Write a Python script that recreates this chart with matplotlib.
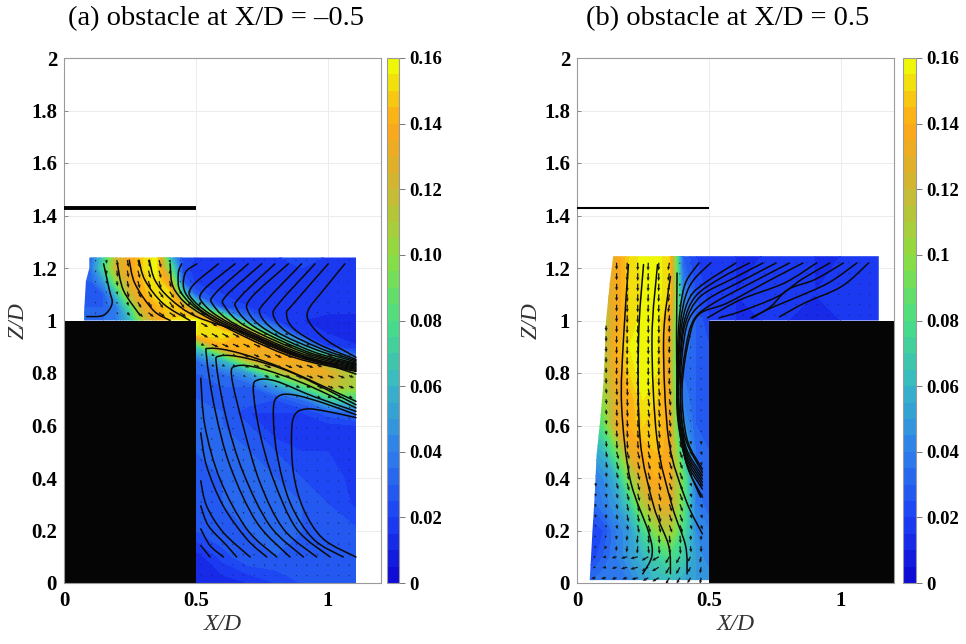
import numpy as np
import matplotlib
matplotlib.use("Agg")
import matplotlib.pyplot as plt
from matplotlib.colors import LinearSegmentedColormap
from matplotlib.path import Path
from matplotlib.patches import PathPatch, Polygon, Rectangle

n = np.nan
plt.rcParams['font.family'] = ['Liberation Serif', 'DejaVu Serif']

# ---- speed field, panel (a)
a_x = [.05, .1, .15, .2, .25, .3, .35, .4, .45, .5, .6, .7, .8, .9, 1.0, 1.12]
a_z = [1.25, 1.2, 1.15, 1.1, 1.05, 1.0, .95, .9, .85, .8, .75, .7, .65, .6, .5, .4, .3, .2, .1, 0]
a_c = [
 [.03, .03, .07, .12, .135, .15, .157, .06, .022, .02, .02, .018, .02, .022, .02, .018],
 [.035, .035, .075, .125, .135, .15, .158, .09, .022, .018, .015, .02, .02, .02, .02, .02],
 [.03, .03, .05, .10, .13, .145, .155, .13, .03, .018, .015, .018, .02, .02, .02, .02],
 [.025, .025, .03, .065, .12, .14, .155, .155, .075, .028, .02, .015, .015, .02, .02, .02],
 [.03, .03, .03, .04, .08, .13, .14, .15, .14, .09, .025, .02, .02, .02, .018, .018],
 [.035, .035, .035, .04, .06, .11, .13, .15, .155, .16, .12, .04, .02, .015, .012, .012],
 [n, n, n, n, n, n, n, n, n, .155, .155, .14, .055, .02, .015, .012],
 [n, n, n, n, n, n, n, n, n, .07, .14, .145, .135, .06, .02, .015],
 [n, n, n, n, n, n, n, n, n, .035, .06, .12, .14, .135, .10, .04],
 [n, n, n, n, n, n, n, n, n, .03, .035, .05, .10, .135, .13, .10],
 [n, n, n, n, n, n, n, n, n, .03, .03, .03, .05, .08, .12, .105],
 [n, n, n, n, n, n, n, n, n, .03, .03, .03, .025, .035, .07, .08],
 [n, n, n, n, n, n, n, n, n, .035, .03, .02, .02, .02, .028, .035],
 [n, n, n, n, n, n, n, n, n, .035, .03, .025, .015, .015, .018, .02],
 [n, n, n, n, n, n, n, n, n, .03, .035, .03, .025, .02, .02, .015],
 [n, n, n, n, n, n, n, n, n, .025, .03, .035, .03, .025, .025, .015],
 [n, n, n, n, n, n, n, n, n, .03, .03, .035, .035, .03, .025, .018],
 [n, n, n, n, n, n, n, n, n, .025, .03, .03, .035, .03, .03, .025],
 [n, n, n, n, n, n, n, n, n, .012, .022, .03, .03, .03, .03, .03],
 [n, n, n, n, n, n, n, n, n, .012, .012, .015, .02, .025, .025, .025],
]
a_region = [(.096, 1.24), (1.106, 1.24), (1.106, 0), (.5, 0), (.5, 1), (.076, 1), (.076, 1.03),
            (.083, 1.15), (.096, 1.2)]

# ---- speed field, panel (b)
b_x = [0, .05, .1, .15, .2, .25, .3, .35, .4, .45, .5, .6, .7, .8, .9, 1.0, 1.15]
b_z = [1.25, 1.1, 1.0, .9, .8, .7, .6, .5, .4, .3, .2, .1, 0]
b_c = [
 [.13, .13, .13, .135, .15, .158, .158, .15, .03, .02, .018, .015, .015, .02, .015, .015, .018],
 [.12, .12, .12, .135, .15, .155, .158, .15, .045, .025, .018, .015, .02, .018, .015, .018, .02],
 [.11, .11, .11, .135, .15, .158, .158, .135, .045, .03, .02, .015, .015, .015, .015, .015, .015],
 [.11, .11, .11, .14, .155, .16, .155, .13, .04, .03, .025, n, n, n, n, n, n],
 [.11, .11, .11, .135, .15, .16, .155, .13, .035, .03, .025, n, n, n, n, n, n],
 [.10, .10, .10, .13, .14, .155, .15, .13, .04, .03, .03, n, n, n, n, n, n],
 [.07, .07, .085, .13, .14, .15, .15, .135, .05, .03, .03, n, n, n, n, n, n],
 [.05, .05, .06, .09, .13, .14, .145, .135, .07, .035, .03, n, n, n, n, n, n],
 [.035, .035, .045, .06, .10, .13, .14, .135, .09, .035, .03, n, n, n, n, n, n],
 [.03, .03, .04, .05, .07, .11, .13, .13, .09, .04, .03, n, n, n, n, n, n],
 [.02, .02, .025, .04, .05, .075, .10, .11, .08, .045, .04, n, n, n, n, n, n],
 [.02, .02, .03, .04, .05, .06, .07, .08, .07, .05, .04, n, n, n, n, n, n],
 [.035, .035, .04, .04, .04, .05, .06, .06, .055, .05, .05, n, n, n, n, n, n],
]
b_region = [(.137, 1.245), (1.143, 1.245), (1.143, 1), (.5, 1), (.5, .011), (.048, .011), (.05, .04),
            (.058, .19), (.067, .33), (.074, .485), (.087, .61), (.10, .76), (.11, 1), (.125, 1.15)]

# ---- flow direction (degrees), coarse readings
a_ang_x = [.1, .2, .3, .4, .5, .7, .9, 1.1]
a_ang_z = [1.2, 1.1, 1.0, .9, .8, .5]
a_ang = [
 [-90, -80, -75, -75, -130, -130, -130, -130],
 [-95, -75, -60, -55, -130, -130, -130, -130],
 [-90, -50, -40, -35, -30, -30, -30, -30],
 [-90, -50, -40, -30, -25, -25, -25, -25],
 [-90, -50, -40, -30, -25, -22, -22, -22],
 [-90, -90, -90, -90, -90, -90, -90, -90],
]
b_ang_x = [.1, .2, .3, .4, .5, .8]
b_ang_z = [1.2, .9, .6, .4, .25, .15, .05]
b_ang = [
 [-88, -90, -92, -100, -130, -140],
 [-88, -90, -90, -92, -95, -140],
 [-84, -86, -82, -78, -85, -90],
 [-80, -75, -75, -70, -75, -90],
 [-90, -80, -75, -70, -70, -90],
 [-115, -95, -85, -85, -90, -90],
 [-170, -165, -150, -120, -100, -90],
]
b_gain_z = [.05, .3, .8]
b_gain = [2.4, 2.0, 1]

# ---- streamlines (X/D, Z/D)
a_lines = [
 [(1.064,1.216),(.982,1.115),(.925,1.039),(.932,.989),(.995,.925),(1.106,.86)],
 [(1.001,1.216),(.869,1.064),(.843,1.026),(.869,.970),(.970,.907),(1.106,.852)],
 [(.951,1.216),(.818,1.07),(.793,1.02),(.843,.957),(.970,.894),(1.106,.847)],
 [(.900,1.216),(.768,1.077),(.742,1.026),(.806,.957),(.957,.888),(1.106,.842)],
 [(.850,1.216),(.711,1.089),(.698,1.033),(.768,.963),(.944,.881),(1.106,.837)],
 [(.799,1.216),(.667,1.089),(.654,1.045),(.730,.970),(.932,.877),(1.106,.833)],
 [(.749,1.216),(.616,1.096),(.610,1.052),(.692,.976),(.919,.875),(1.106,.830)],
 [(.698,1.216),(.572,1.102),(.566,1.058),(.654,.983),(.906,.872),(1.106,.826)],
 [(.648,1.216),(.528,1.115),(.528,1.064),(.629,.989),(.894,.869),(1.106,.822)],
 [(.585,1.216),(.484,1.128),(.490,1.077),(.604,.995),(.881,.869),(1.106,.818)],
 [(.503,1.216),(.458,1.178),(.465,1.096),(.578,1.001),(.869,.869),(1.106,.814)],
 [(.446,1.216),(.433,1.178),(.446,1.102),(.553,1.014),(.856,.872),(1.106,.809)],
 [(.402,1.216),(.420,1.115),(.528,1.02),(.843,.869),(1.106,.806)],
 [(.323,1.23),(.345,1.153),(.402,1.083),(.503,1.014),(.692,.950),(.894,.869),(1.106,.796)],
 [(.284,1.23),(.307,1.153),(.376,1.064),(.477,1.0)],
 [(.247,1.23),(.269,1.14),(.338,1.039),(.402,1.0)],
 [(.202,1.216),(.225,1.115),(.288,1.02)],
 [(.15,1.216),(.172,1.115),(.182,1.064),(.15,1.02),(.086,1.015)],
 [(1.106,.630),(.995,.654),(.919,.663),(.875,.642),(.862,.572),(.869,.420),(.907,.282),(.982,.168),(1.106,.099)],
 [(1.106,.641),(.982,.686),(.869,.717),(.812,.711),(.793,.660),(.806,.496),(.856,.307),(.944,.168),(1.058,.099)],
 [(1.106,.654),(.944,.711),(.806,.768),(.736,.774),(.717,.736),(.742,.572),(.793,.395),(.881,.206),(1.008,.099)],
 [(1.106,.667),(.906,.761),(.742,.818),(.654,.827),(.635,.786),(.679,.597),(.742,.383),(.831,.206),(.957,.099)],
 [(1.106,.679),(.869,.799),(.692,.856),(.591,.865),(.578,.825),(.616,.622),(.679,.420),(.780,.218),(.907,.099)],
 [(1.106,.692),(.843,.812),(.667,.875),(.553,.894),(.540,.862),(.572,.660),(.629,.446),(.730,.231),(.856,.099)],
 [(.518,.780),(.534,.597),(.591,.395),(.692,.206),(.806,.099)],
 [(.518,.572),(.540,.446),(.603,.294),(.692,.168),(.768,.099)],
 [(.518,.389),(.540,.294),(.603,.193),(.705,.099)],
 [(.518,.294),(.547,.218),(.616,.143),(.654,.099)],
 [(.518,.206),(.553,.143),(.604,.099)],
 [(.518,.143),(.553,.099)],
]
b_lines = [
 [(1.104,1.219),(1.003,1.13),(.863,1.067),(.767,1.014)],
 [(1.06,1.219),(.952,1.143),(.812,1.08),(.735,1.048),(.659,1.01)],
 [(1.009,1.219),(.901,1.156),(.799,1.118),(.735,1.054),(.665,1.01)],
 [(.958,1.219),(.85,1.156),(.761,1.092),(.621,1.035),(.538,1.01)],
 [(.907,1.219),(.786,1.143),(.621,1.08),(.494,1.01)],
 [(.856,1.219),(.735,1.156),(.57,1.067),(.462,1.023),(.424,.928),(.398,.738),(.417,.548),(.475,.434)],
 [(.805,1.219),(.684,1.156),(.519,1.067),(.443,1.004),(.411,.89),(.392,.713),(.411,.548),(.475,.422)],
 [(.754,1.219),(.634,1.156),(.494,1.08),(.424,1.004),(.398,.865),(.392,.7),(.411,.523),(.475,.409)],
 [(.704,1.219),(.595,1.162),(.468,1.092),(.411,.991),(.392,.852),(.385,.687),(.411,.51),(.475,.396)],
 [(.653,1.219),(.545,1.162),(.449,1.092),(.405,.991),(.389,.839),(.385,.675),(.411,.497),(.475,.384)],
 [(.602,1.219),(.494,1.15),(.43,1.092),(.398,.991),(.385,.839),(.382,.662),(.411,.485),(.475,.371)],
 [(.506,1.219),(.443,1.156),(.411,1.092),(.392,.991),(.382,.827),(.382,.649),(.411,.472),(.475,.358)],
 [(.462,1.219),(.417,1.156),(.398,1.092),(.385,.978),(.379,.801),(.382,.624),(.417,.447),(.475,.327)],
 [(.195,1.213),(.176,.928),(.169,.675),(.201,.396),(.271,.194),(.284,.105),(.249,.035)],
 [(.252,1.213),(.233,.928),(.239,.548),(.29,.295),(.347,.143),(.354,.035)],
 [(.305,1.213),(.284,.928),(.303,.548),(.36,.295),(.411,.143),(.417,.035)],
 [(.354,1.168),(.328,.928),(.347,.548),(.411,.32),(.475,.187)],
 [(.379,1.181),(.379,.801),(.405,.497),(.468,.327)],
]

titles = ['(a) obstacle at X/D = \u20130.5', '(b) obstacle at X/D = 0.5']
cb_labels_a = ['0', '0.02', '0.04', '0.06', '0.08', '0.10', '0.12', '0.14', '0.16']
cb_labels_b = ['0', '0.02', '0.04', '0.06', '0.08', '0.1', '0.12', '0.14', '0.16']
cb_ticks = [0, .02, .04, .06, .08, .10, .12, .14, .16]
z_ticks = [0, .2, .4, .6, .8, 1, 1.2, 1.4, 1.6, 1.8, 2]
z_labels = ['0', '0.2', '0.4', '0.6', '0.8', '1', '1.2', '1.4', '1.6', '1.8', '2']
x_ticks = [0, .5, 1]
x_labels = ['0', '0.5', '1']

cmap = LinearSegmentedColormap.from_list('jet_like', [
    (0.00, (0.05, 0.02, 0.82)), (0.125, (0.11, 0.25, 0.96)), (0.25, (0.18, 0.50, 0.92)),
    (0.375, (0.22, 0.72, 0.78)), (0.50, (0.28, 0.87, 0.52)), (0.625, (0.55, 0.87, 0.25)),
    (0.75, (0.80, 0.72, 0.20)), (0.875, (1.00, 0.65, 0.10)), (1.00, (0.92, 1.00, 0.02))])
levels = np.arange(0, .1651, .005)

W, H = 966, 644
fig = plt.figure(figsize=(W / 100, H / 100), dpi=100)


def axes_px(l, t, r, b):
    return fig.add_axes([l / W, 1 - b / H, (r - l) / W, (b - t) / H])


def curve(points):
    # Smooth curve through the read points, drawn with matplotlib's cubic Path segments.
    pts = np.asarray(points, float)
    verts, codes = [tuple(pts[0])], [Path.MOVETO]
    for i in range(len(pts) - 1):
        p0 = pts[max(i - 1, 0)]
        p1, p2 = pts[i], pts[i + 1]
        p3 = pts[min(i + 2, len(pts) - 1)]
        verts += [tuple(p1 + (p2 - p0) / 6), tuple(p2 - (p3 - p1) / 6), tuple(p2)]
        codes += [Path.CURVE4] * 3
    return Path(verts, codes)


def nearest(arr, v):
    return int(np.argmin(np.abs(np.asarray(arr) - v)))


def panel(ax_box, cb_box, x, z, c, region, lines, ang_x, ang_z, ang, qx, qz, gain, block, bar_lw, title, cb_labels, title_x):
    ax = axes_px(*ax_box)
    cs = ax.contourf(x, z, np.array(c, float), levels=levels, cmap=cmap, vmin=0, vmax=.16, zorder=1)
    clip = Polygon(region, closed=True, transform=ax.transData, fill=False, edgecolor='none')
    ax.add_patch(clip)
    cs.set_clip_path(clip)
    ax.add_patch(Rectangle(*block, facecolor='#050505', edgecolor='none', zorder=2))
    ax.plot([0, .5], [1.43, 1.43], color='k', lw=bar_lw, solid_capstyle='butt', zorder=3)
    for pts in lines:
        ax.add_patch(PathPatch(curve(pts), fill=False, edgecolor='#0a0a0a', lw=1.1, capstyle='round', zorder=4))
    # arrows on the measurement grid
    region_path = Path(region)
    X, Z, U, V = [], [], [], []
    arr = np.array(c, float)
    for xv in qx:
        for zv in qz:
            if not region_path.contains_point((xv, zv)):
                continue
            s = arr[nearest(z, zv), nearest(x, xv)]
            if np.isnan(s):
                continue
            a = np.deg2rad(ang[nearest(ang_z, zv)][nearest(ang_x, xv)])
            L = min(s * .2 * gain(zv), .03)
            X.append(xv); Z.append(zv); U.append(L * np.cos(a)); V.append(L * np.sin(a))
    ax.quiver(X, Z, U, V, angles='xy', scale_units='xy', scale=1, width=.004, headwidth=2.6, headlength=3,
              headaxislength=2.6, minlength=.8, color='#151515', zorder=5)
    ax.set_xlim(0, 1.2)
    ax.set_ylim(0, 2)
    ax.set_xticks(x_ticks, x_labels)
    ax.set_yticks(z_ticks, z_labels)
    ax.grid(True, color='#ececec', lw=.7)
    ax.set_axisbelow(True)
    ax.tick_params(direction='in', length=3, width=.6, color='#777777', labelsize=15, pad=6)
    ax.tick_params(axis='y', pad=5)
    for lab in ax.get_xticklabels() + ax.get_yticklabels():
        lab.set_fontweight('bold')
    for s in ax.spines.values():
        s.set_color('#9a9a9a')
        s.set_linewidth(.8)
    ax.set_xlabel('X/D', style='italic', fontsize=17, color='#333333', labelpad=2)
    ax.set_ylabel('Z/D', style='italic', fontsize=17, color='#333333', labelpad=2)
    fig.text(title_x / W, 1 - 19 / H, title, ha='center', va='center', fontsize=20.5)
    cax = axes_px(*cb_box)
    cb = fig.colorbar(cs, cax=cax, ticks=cb_ticks)
    cb.ax.set_ylim(0, .16)
    cb.ax.set_yticklabels(cb_labels, fontweight='bold', fontsize=13.5)
    cb.ax.tick_params(length=4, width=.7, color='#777777', pad=3.5)
    cb.outline.set_edgecolor('#9a9a9a')
    cb.outline.set_linewidth(.8)
    return ax


panel((64, 58, 380.8, 583), (386.5, 58, 399, 583), a_x, a_z, a_c, a_region, a_lines, a_ang_x, a_ang_z, a_ang,
      np.arange(.12, 1.13, .04), np.arange(.03, 1.24, .04), lambda zv: 1.0,
      ((0, 0), .5, 1), 2.8, titles[0], cb_labels_a, 216)


def b_g(zv):
    return b_gain[nearest(b_gain_z, zv)]


panel((577, 58, 893.8, 583), (902.5, 58, 915.5, 583), b_x, b_z, b_c, b_region, b_lines, b_ang_x, b_ang_z, b_ang,
      np.arange(.07, 1.14, .04), np.arange(.02, 1.24, .04), b_g,
      ((.5, 0), .7, 1), 1.5, titles[1], cb_labels_b, 728)

fig.savefig('out.png', dpi=100)
